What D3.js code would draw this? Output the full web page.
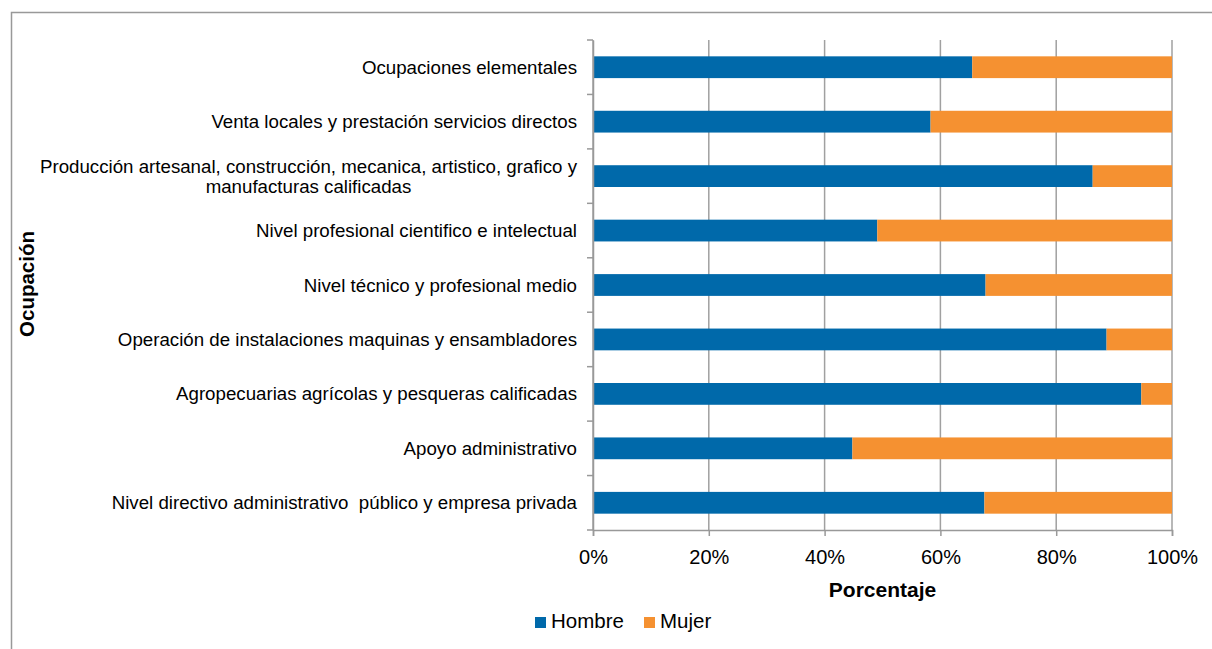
<!DOCTYPE html>
<html><head><meta charset="utf-8">
<script src="https://cdn.jsdelivr.net/npm/d3@7"></script>
<style>
body{margin:0;background:#fff;}
svg{display:block;font-family:Arial,"Liberation Sans",sans-serif;}
text{white-space:pre;}
</style></head>
<body><svg id="c" width="1212" height="649"></svg>
<script>
const categories = [
  "Ocupaciones elementales",
  "Venta locales y prestación servicios directos",
  "Producción artesanal, construcción, mecanica, artistico, grafico y|manufacturas calificadas",
  "Nivel profesional cientifico e intelectual",
  "Nivel técnico y profesional medio",
  "Operación de instalaciones maquinas y ensambladores",
  "Agropecuarias agrícolas y pesqueras calificadas",
  "Apoyo administrativo",
  "Nivel directivo administrativo  público y empresa privada"
];
const hombre = [65.5, 58.3, 86.3, 49.1, 67.8, 88.7, 94.7, 44.8, 67.6];
const mujer  = [34.5, 41.7, 13.7, 50.9, 32.2, 11.3, 5.3, 55.2, 32.4];
const seriesNames = ["Hombre", "Mujer"];
const colors = ["#0069aa", "#f59131"];
const xTicks = [0, 20, 40, 60, 80, 100];

const svg = d3.select("#c");
const W = 1212, H = 649;
const m = {left: 593, right: 1172, top: 40, bottom: 530};

// outer frame
svg.append("path").attr("d", `M11.5,${H}V12.5H${W}`).attr("fill","none").attr("stroke","#999").attr("stroke-width",1.5);

const x = d3.scaleLinear().domain([0,100]).range([m.left, m.right]);
const y = d3.scaleBand().domain(categories).range([m.top, m.bottom]).padding(0);
const barH = y.bandwidth()*0.4;

// gridlines
svg.append("g").selectAll("line").data(xTicks).join("line")
  .attr("x1", d=>x(d)).attr("x2", d=>x(d)).attr("y1", m.top).attr("y2", m.bottom)
  .attr("stroke","#a0a0a0").attr("stroke-width",1.5);

// bars
const stackData = categories.map((c,i)=>({cat:c, Hombre:hombre[i], Mujer:mujer[i]}));
const stacked = d3.stack().keys(seriesNames)(stackData);
svg.append("g").selectAll("g").data(stacked).join("g")
  .attr("fill", (d,i)=>colors[i])
  .selectAll("rect").data(d=>d).join("rect")
  .attr("x", d=>x(d[0])).attr("width", d=>x(d[1])-x(d[0]))
  .attr("y", d=>y(d.data.cat)+y.bandwidth()/2-barH/2).attr("height", barH);

// x axis
const xAxis = d3.axisBottom(x).tickValues(xTicks).tickFormat(d=>d+"%").tickSize(6).tickPadding(14);
const gx = svg.append("g").attr("transform",`translate(0,${m.bottom})`).call(xAxis);
gx.select(".domain").attr("stroke","#999").attr("stroke-width",1.5);
gx.selectAll(".tick line").attr("stroke","#999").attr("stroke-width",1.5);
gx.selectAll("text").attr("font-size",20).attr("fill","#000").attr("font-family","Arial, 'Liberation Sans', sans-serif");

// y axis
const yAxis = d3.axisLeft(y).tickSize(0).tickFormat("");
const gy = svg.append("g").attr("transform",`translate(${m.left},0)`).call(yAxis);
gy.select(".domain").attr("stroke","#999").attr("stroke-width",1.5);
// boundary ticks
const bounds = categories.map(c=>y(c)).concat([m.bottom]);
svg.append("g").selectAll("line").data(bounds).join("line")
  .attr("x1", m.left-6).attr("x2", m.left).attr("y1", d=>d).attr("y2", d=>d)
  .attr("stroke","#999").attr("stroke-width",1.5);

// category labels
const lab = svg.append("g").attr("font-size",18.7).attr("fill","#000");
categories.forEach(c=>{
  const lines = c.split("|");
  const cy = y(c)+y.bandwidth()/2;
  const lh = 20;
  const t0 = lab.append("text").attr("x", m.left-16).attr("text-anchor","end")
    .attr("y", cy - (lines.length-1)*lh/2).attr("dy","0.35em").text(lines[0]);
  if(lines.length>1){
    const w = t0.node().getComputedTextLength();
    for(let k=1;k<lines.length;k++){
      lab.append("text").attr("x", m.left-16-w/2).attr("text-anchor","middle")
        .attr("y", cy - (lines.length-1)*lh/2 + k*lh).attr("dy","0.35em").text(lines[k]);
    }
  }
});

// axis titles
svg.append("text").attr("x",(m.left+m.right)/2).attr("y",597).attr("text-anchor","middle")
  .attr("font-size",21).attr("font-weight","bold").text("Porcentaje");
svg.append("text").attr("transform",`translate(34,284) rotate(-90)`).attr("text-anchor","middle")
  .attr("font-size",20.5).attr("font-weight","bold").text("Ocupación");

// legend
const leg = svg.append("g");
const legX = [535, 644];
seriesNames.forEach((s,i)=>{
  leg.append("rect").attr("x",legX[i]).attr("y",617).attr("width",11).attr("height",11).attr("fill",colors[i]);
  leg.append("text").attr("x",legX[i]+16).attr("y",628).attr("font-size",20.5).text(s);
});
</script></body></html>
